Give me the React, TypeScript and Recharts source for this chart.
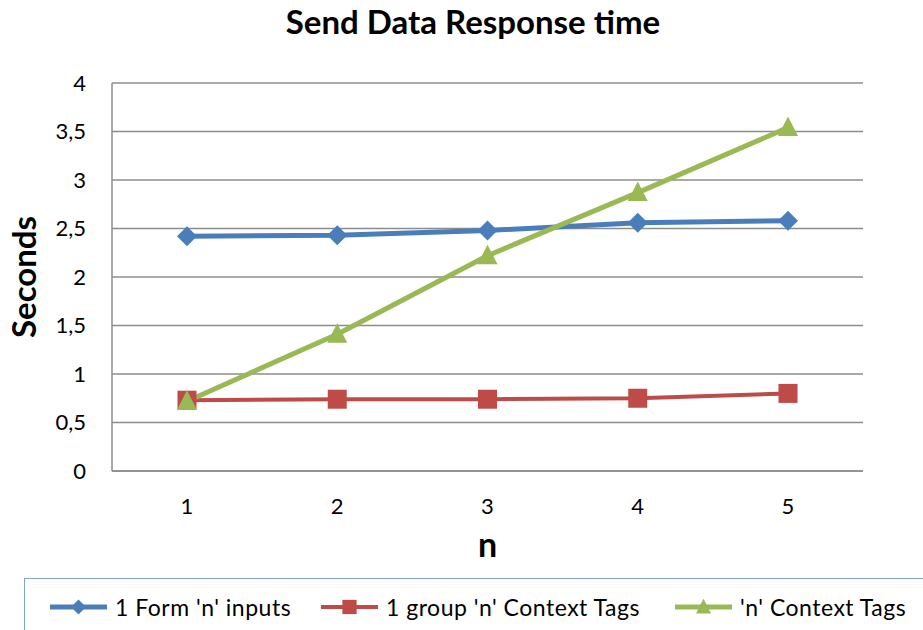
import React from "react";
import { LineChart, Line, XAxis, YAxis, CartesianGrid } from "recharts";

const categories = ["1", "2", "3", "4", "5"];
const formInputs = [2.42, 2.43, 2.48, 2.56, 2.58];
const groupTags = [0.73, 0.74, 0.74, 0.75, 0.8];
const contextTags = [0.72, 1.41, 2.22, 2.87, 3.54];
const yTicks = [0, 0.5, 1, 1.5, 2, 2.5, 3, 3.5, 4];

const series = [
  { key: "form", name: "1 Form 'n' inputs", color: "#4A7EBB", width: 5, shape: "diamond", legendX: 50 },
  { key: "group", name: "1 group 'n' Context Tags", color: "#BE4B48", width: 4, shape: "square", legendX: 321 },
  { key: "ctx", name: "'n' Context Tags", color: "#98B954", width: 5, shape: "triangle", legendX: 675 },
];

const rows = categories.map((c, i) => ({
  n: c,
  form: formInputs[i],
  group: groupTags[i],
  ctx: contextTags[i],
}));

const FONT = "Lato, 'Open Sans', sans-serif";

function Marker({ shape, cx, cy, color, s }: { shape: string; cx: number; cy: number; color: string; s: number }) {
  if (shape === "diamond") {
    return (
      <polygon
        points={`${cx},${cy - s} ${cx + s},${cy} ${cx},${cy + s} ${cx - s},${cy}`}
        fill={color}
      />
    );
  }
  if (shape === "square") {
    return <rect x={cx - s * 0.95} y={cy - s * 0.95} width={s * 1.9} height={s * 1.9} fill={color} />;
  }
  return (
    <polygon
      points={`${cx},${cy - s * 1.1} ${cx + s},${cy + s * 0.85} ${cx - s},${cy + s * 0.85}`}
      fill={color}
    />
  );
}

const fmt = (v: number) => String(v).replace(".", ",");

export default function App() {
  return (
    <div
      style={{
        position: "absolute",
        left: 0,
        top: 0,
        width: 923,
        height: 630,
        background: "#fff",
        fontFamily: FONT,
        overflow: "hidden",
      }}
    >
      <div
        style={{
          position: "absolute",
          left: 0,
          top: 1,
          width: 946,
          textAlign: "center",
          fontWeight: 700,
          fontSize: 33,
          color: "#000",
        }}
      >
        Send Data Response time
      </div>
      <LineChart
        width={923}
        height={630}
        data={rows}
        margin={{ top: 83, right: 60, bottom: 69, left: 0 }}
        style={{ position: "absolute", left: 0, top: 0 }}
      >
        <CartesianGrid vertical={false} stroke="#8c8c8c" strokeWidth={1.5} />
        <XAxis
          dataKey="n"
          padding={{ left: 75, right: 75 }}
          height={90}
          tickSize={0}
          tickMargin={27}
          tick={{ fill: "#000", fontSize: 22, fontFamily: FONT }}
          axisLine={{ stroke: "#8c8c8c", strokeWidth: 1.5 }}
          label={{
            value: "n",
            position: "insideBottom",
            offset: 4,
            style: { fontSize: 34, fontWeight: 700, fill: "#000", fontFamily: FONT },
          }}
        />
        <YAxis
          domain={[0, 4]}
          ticks={yTicks}
          width={112}
          tickSize={0}
          tickMargin={26}
          tickFormatter={fmt}
          tick={{ fill: "#000", fontSize: 22, fontFamily: FONT }}
          axisLine={{ stroke: "#8c8c8c", strokeWidth: 1.5 }}
          label={{
            value: "Seconds",
            angle: -90,
            position: "insideLeft",
            offset: 24,
            style: { textAnchor: "middle", fontSize: 33, fontWeight: 700, fill: "#000", fontFamily: FONT },
          }}
        />
        {series.map((s) => (
          <Line
            key={s.key}
            dataKey={s.key}
            name={s.name}
            stroke={s.color}
            strokeWidth={s.width}
            isAnimationActive={false}
            activeDot={false}
            dot={(p: any) => (
              <Marker key={`${s.key}-${p.index}`} shape={s.shape} cx={p.cx} cy={p.cy} color={s.color} s={10} />
            )}
          />
        ))}
      </LineChart>
      <div
        style={{
          position: "absolute",
          left: 24,
          top: 578,
          width: 920,
          height: 70,
          border: "1.5px solid #7FA3D3",
          boxSizing: "border-box",
        }}
      />
      {series.map((s) => (
        <div
          key={s.key}
          style={{ position: "absolute", left: s.legendX, top: 593, display: "flex", alignItems: "center", height: 28 }}
        >
          <svg width={57} height={20}>
            <line x1={0} y1={10} x2={57} y2={10} stroke={s.color} strokeWidth={s.width} />
            <Marker shape={s.shape} cx={28.5} cy={10} color={s.color} s={7.5} />
          </svg>
          <span style={{ fontSize: 23, letterSpacing: 0.5, color: "#000", marginLeft: 8, whiteSpace: "nowrap" }}>
            {s.name}
          </span>
        </div>
      ))}
    </div>
  );
}
